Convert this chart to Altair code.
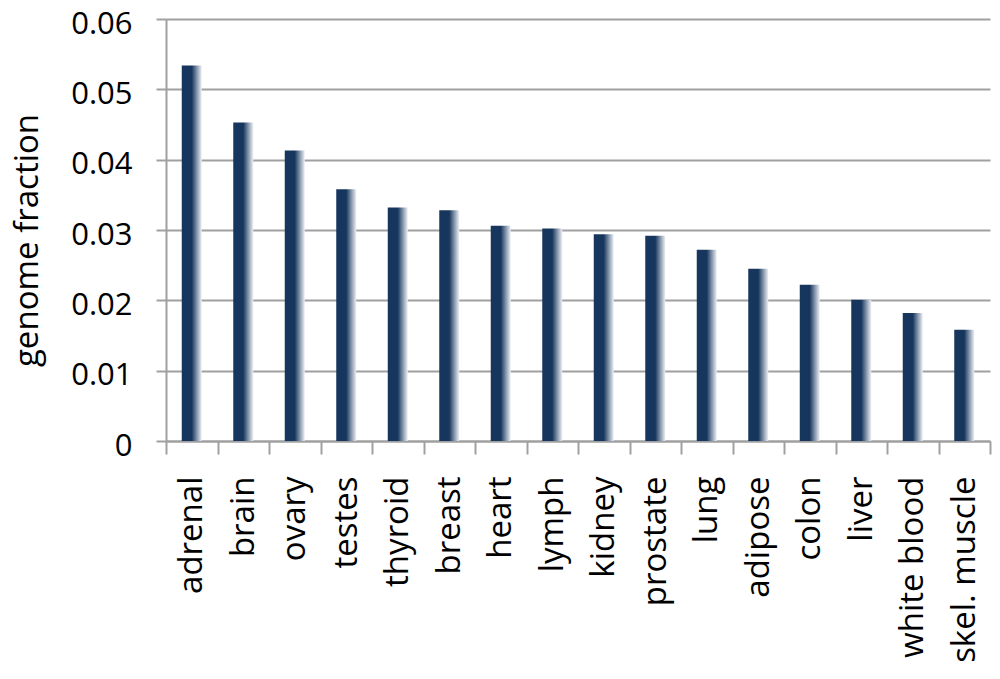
import altair as alt
import pandas as pd

tissues = ["adrenal", "brain", "ovary", "testes", "thyroid", "breast", "heart", "lymph",
           "kidney", "prostate", "lung", "adipose", "colon", "liver", "white blood", "skel. muscle"]
fractions = [0.0534, 0.0453, 0.0413, 0.0358, 0.0332, 0.0328, 0.0306, 0.0302,
             0.0294, 0.0292, 0.0272, 0.0245, 0.0222, 0.0201, 0.0182, 0.0158]

df = pd.DataFrame({"tissue": tissues, "fraction": fractions})

FONT = "Open Sans"
grad = alt.Gradient(
    gradient="linear", x1=0, x2=1, y1=0, y2=0,
    stops=[alt.GradientStop(offset=0, color="#17365d"),
           alt.GradientStop(offset=0.5, color="#17365d"),
           alt.GradientStop(offset=1, color="#eef1f6")],
)

chart = alt.Chart(df).mark_bar(width=20, color=grad).encode(
    x=alt.X("tissue:N", sort=tissues,
            scale=alt.Scale(paddingInner=0, paddingOuter=0),
            axis=alt.Axis(title=None, labelAngle=-90, labelFontSize=33, labelFont=FONT,
                          labelColor="#000000", labelPadding=22, labelLimit=400, tickBand="extent",
                          tickSize=13, tickColor="#a0a0a0", tickWidth=2,
                          domainColor="#a0a0a0", domainWidth=2, grid=False)),
    y=alt.Y("fraction:Q", scale=alt.Scale(domain=[0, 0.06], nice=False),
            axis=alt.Axis(title="genome fraction", values=[0, 0.01, 0.02, 0.03, 0.04, 0.05, 0.06],
                          format="~g", labelFontSize=31, labelFont=FONT, labelColor="#000000",
                          labelPadding=24, labelOffset=5, tickSize=10, tickColor="#a0a0a0", tickWidth=2,
                          domainColor="#a0a0a0", domainWidth=2,
                          gridColor="#a0a0a0", gridWidth=2,
                          titleFontSize=33, titleFont=FONT, titleFontWeight="normal",
                          titleColor="#000000", titleX=-139, titleY=221,
                          titleAlign="center", titleBaseline="middle", titleAngle=-90)),
).properties(
    width=824, height=422,
    autosize=alt.AutoSizeParams(type="none"),
    padding={"left": 158, "top": 11, "right": 2, "bottom": 230},
).configure_view(stroke=None)

chart.save("out.html", embed_options={"renderer": "svg", "actions": False})
